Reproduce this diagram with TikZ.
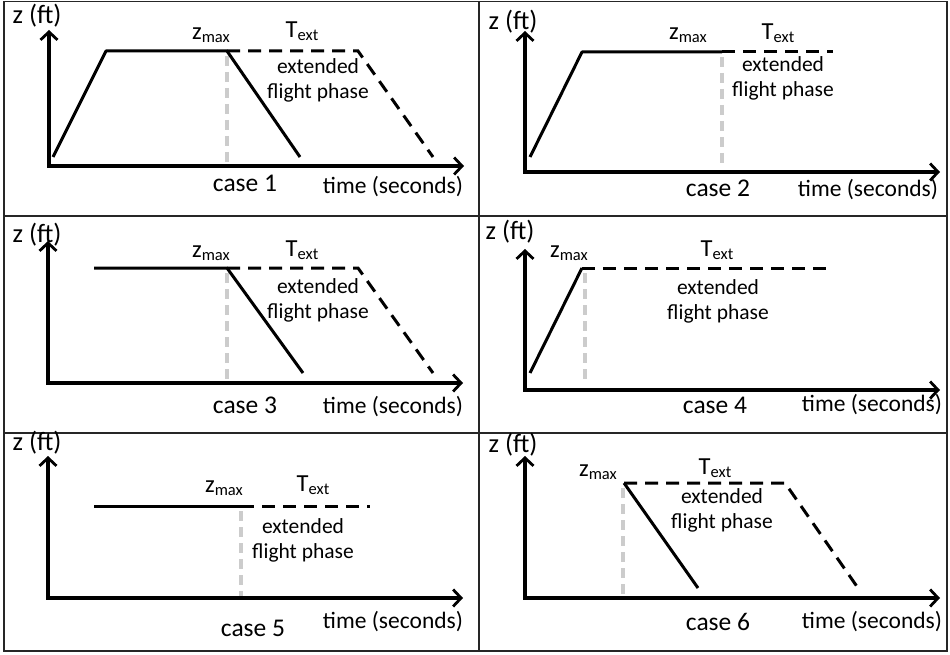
\documentclass[tikz,border=0pt]{standalone}
\usepackage{fontspec}
\setmainfont{Carlito}
\usetikzlibrary{arrows.meta}
\newcommand{\zmx}{z\raisebox{-3pt}{\fontsize{16.5}{16.5}\selectfont max}}
\newcommand{\Tex}{T\raisebox{-3pt}{\fontsize{16.5}{16.5}\selectfont ext}}
\begin{document}
\begin{tikzpicture}[x=1pt,y=-1pt,
  frame/.style={line width=1.4pt, draw=black!85},
  axis/.style={line width=3.2pt, line join=miter, {Straight Barb[length=8pt,width=17pt,line width=2.8pt]}-{Straight Barb[length=8pt,width=17pt,line width=2.8pt]}},
  prof/.style={line width=3pt, line join=round},
  ext/.style={line width=3pt, dash pattern=on 13pt off 8pt},
  guide/.style={line width=4pt, draw=black!20, dash pattern=on 10pt off 6pt},
  zft/.style={font=\fontsize{26.5}{28}\selectfont, inner sep=0pt},
  sym/.style={font=\fontsize{24.5}{26}\selectfont, inner sep=0pt},
  note/.style={font=\fontsize{21.5}{25}\selectfont, inner sep=0pt, align=center},
  case/.style={font=\fontsize{25.5}{28}\selectfont, inner sep=0pt},
  tlab/.style={font=\fontsize{23.5}{26}\selectfont, inner sep=0pt}
]
\useasboundingbox (0,0) rectangle (950,655);
% frame
\coordinate (tl) at (4,1.5); \coordinate (br) at (947,651);
\draw[frame] (tl) rectangle (br);
\coordinate (r1l) at (4,216); \coordinate (r1r) at (947,216);
\coordinate (r2l) at (4,433); \coordinate (r2r) at (947,433);
\coordinate (ct) at (479,1.5); \coordinate (cb) at (479,651);
\draw[frame] (r1l) -- (r1r);
\draw[frame] (r2l) -- (r2r);
\draw[frame] (ct) -- (cb);

% ---------- case 1 ----------
\coordinate (o1) at (49,166); \coordinate (y1) at (49,30); \coordinate (x1) at (464,166);
\coordinate (p1a) at (53,157); \coordinate (p1b) at (106,51); \coordinate (p1c) at (227,51);
\coordinate (p1d) at (300,157); \coordinate (p1e) at (358,51); \coordinate (p1f) at (433,157);
\coordinate (g1t) at (227,56); \coordinate (g1b) at (227,166);
\draw[guide] (g1t) -- (g1b);
\draw[axis] (y1) -- (o1) -- (x1);
\draw[prof] (p1a) -- (p1b) -- (p1c) -- (p1d);
\draw[ext] (p1c) -- (p1e) -- (p1f);
\node[zft] (zf1) at (37,16) {z (ft)};
\node[sym] (zm1) at (211,35) {\zmx};
\node[sym] (te1) at (302,31) {\Tex};
\node[note] (n1) at (318,80) {extended\\flight phase};
\node[case] (c1) at (245,183) {case 1};
\node[tlab] (t1) at (393,187) {time (seconds)};

% ---------- case 2 ----------
\coordinate (o2) at (525,172); \coordinate (y2) at (525,31); \coordinate (x2) at (940,172);
\coordinate (p2a) at (530,157); \coordinate (p2b) at (582,52); \coordinate (p2c) at (722,52);
\coordinate (p2e) at (833,52);
\coordinate (g2t) at (722,57); \coordinate (g2b) at (722,165);
\draw[guide] (g2t) -- (g2b);
\draw[axis] (y2) -- (o2) -- (x2);
\draw[prof] (p2a) -- (p2b) -- (p2c);
\draw[ext] (p2c) -- (p2e);
\node[zft] (zf2) at (513,22) {z (ft)};
\node[sym] (zm2) at (688,35) {\zmx};
\node[sym] (te2) at (778,33) {\Tex};
\node[note] (n2) at (783,78) {extended\\flight phase};
\node[case] (c2) at (718,188) {case 2};
\node[tlab] (t2) at (868,190) {time (seconds)};

% ---------- case 3 ----------
\coordinate (o3) at (48,383); \coordinate (y3) at (48,241); \coordinate (x3) at (463,383);
\coordinate (p3b) at (94,268); \coordinate (p3c) at (227,268);
\coordinate (p3d) at (303,373); \coordinate (p3e) at (358,268); \coordinate (p3f) at (433,373);
\coordinate (g3t) at (227,273); \coordinate (g3b) at (227,383);
\draw[guide] (g3t) -- (g3b);
\draw[axis] (y3) -- (o3) -- (x3);
\draw[prof] (p3b) -- (p3c) -- (p3d);
\draw[ext] (p3c) -- (p3e) -- (p3f);
\node[zft] (zf3) at (37,235) {z (ft)};
\node[sym] (zm3) at (211,253) {\zmx};
\node[sym] (te3) at (302,250) {\Tex};
\node[note] (n3) at (318,300) {extended\\flight phase};
\node[case] (c3) at (245,405) {case 3};
\node[tlab] (t3) at (393,407) {time (seconds)};

% ---------- case 4 ----------
\coordinate (o4) at (525,390); \coordinate (y4) at (525,249); \coordinate (x4) at (940,390);
\coordinate (p4a) at (530,373); \coordinate (p4b) at (582,268); \coordinate (p4e) at (830,268);
\coordinate (g4t) at (585,273); \coordinate (g4b) at (585,385);
\draw[guide] (g4t) -- (g4b);
\draw[axis] (y4) -- (o4) -- (x4);
\draw[prof] (p4a) -- (p4b);
\draw[ext] (p4b) -- (p4e);
\node[zft] (zf4) at (510,232) {z (ft)};
\node[sym] (zm4) at (569,253) {\zmx};
\node[sym] (te4) at (717,250) {\Tex};
\node[note] (n4) at (718,301) {extended\\flight phase};
\node[case] (c4) at (715,405) {case 4};
\node[tlab] (t4) at (872,405) {time (seconds)};

% ---------- case 5 ----------
\coordinate (o5) at (48,598); \coordinate (y5) at (48,456); \coordinate (x5) at (463,598);
\coordinate (p5b) at (94,506); \coordinate (p5c) at (241,506); \coordinate (p5e) at (370,506);
\coordinate (g5t) at (241,511); \coordinate (g5b) at (241,598);
\draw[guide] (g5t) -- (g5b);
\draw[axis] (y5) -- (o5) -- (x5);
\draw[prof] (p5b) -- (p5c);
\draw[ext] (p5c) -- (p5e);
\node[zft] (zf5) at (37,443) {z (ft)};
\node[sym] (zm5) at (224,488) {\zmx};
\node[sym] (te5) at (313,485) {\Tex};
\node[note] (n5) at (303,540) {extended\\flight phase};
\node[case] (c5) at (253,628) {case 5};
\node[tlab] (t5) at (393,622) {time (seconds)};

% ---------- case 6 ----------
\coordinate (o6) at (525,598); \coordinate (y6) at (525,456); \coordinate (x6) at (940,598);
\coordinate (p6c) at (624,483); \coordinate (p6d) at (698,588);
\coordinate (p6e) at (785,483); \coordinate (p6f) at (858,588);
\coordinate (g6t) at (623,488); \coordinate (g6b) at (623,598);
\draw[guide] (g6t) -- (g6b);
\draw[axis] (y6) -- (o6) -- (x6);
\draw[prof] (p6c) -- (p6d);
\draw[ext] (p6c) -- (p6e) -- (p6f);
\node[zft] (zf6) at (513,445) {z (ft)};
\node[sym] (zm6) at (598,472) {\zmx};
\node[sym] (te6) at (715,468) {\Tex};
\node[note] (n6) at (722,510) {extended\\flight phase};
\node[case] (c6) at (718,622) {case 6};
\node[tlab] (t6) at (872,622) {time (seconds)};
\end{tikzpicture}
\end{document}
